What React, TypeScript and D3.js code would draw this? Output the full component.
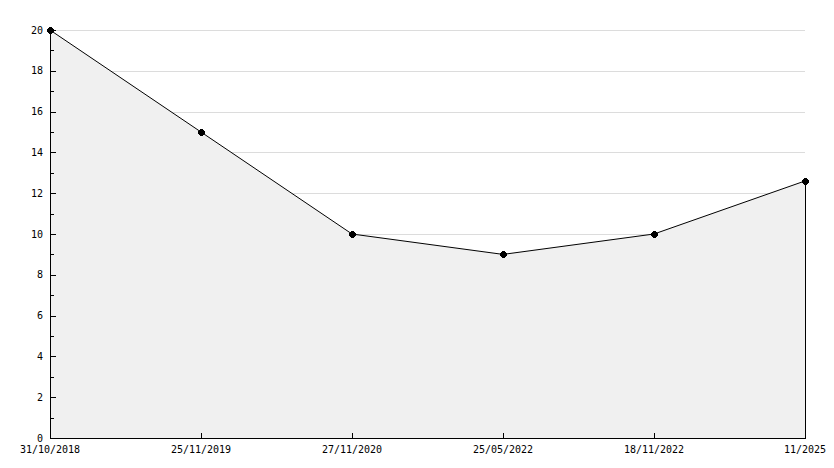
import React from "react";
import * as d3 from "d3";

const categories = ["31/10/2018", "25/11/2019", "27/11/2020", "25/05/2022", "18/11/2022", "11/2025"];
const values = [20, 15, 10, 9, 10, 12.6];
const yTicks = [0, 2, 4, 6, 8, 10, 12, 14, 16, 18, 20];
const yMinorTicks = [1, 3, 5, 7, 9, 11, 13, 15, 17, 19];

const W = 834, H = 468;
const L = 50, R = 805, T = 30, B = 438;

export default function App() {
  const x = d3.scalePoint<string>().domain(categories).range([L, R]);
  const y = d3.scaleLinear().domain([0, 20]).range([B, T]);
  const pts: [number, number][] = values.map((v, i) => [x(categories[i]) as number, y(v)]);
  const area = d3.area<[number, number]>().x(d => d[0]).y0(B).y1(d => d[1]);
  const line = d3.line<[number, number]>().x(d => d[0]).y(d => d[1]);
  const font = "'DejaVu Sans Mono', monospace";
  return (
    <svg width={W} height={H} style={{ position: "absolute", left: 0, top: 0, background: "#fff" }}>
      <rect x={0} y={0} width={W} height={H} fill="#fff" />
      {yTicks.filter(t => t > 0).map(t => (
        <line key={"g" + t} x1={L} x2={R} y1={Math.round(y(t)) + 0.5} y2={Math.round(y(t)) + 0.5} stroke="#dcdcdc" strokeWidth={1} />
      ))}
      <path d={area(pts) as string} fill="#f0f0f0" />
      <line x1={R + 0.5} x2={R + 0.5} y1={pts[pts.length - 1][1]} y2={B} stroke="#000" strokeWidth={1} />
      <path d={line(pts) as string} fill="none" stroke="#000" strokeWidth={1} />
      {pts.map((p, i) => (
        <g key={"m" + i} transform={`translate(${Math.round(p[0])},${Math.round(p[1])})`}>
          <rect x={-2} y={-2} width={5} height={5} fill="#000" />
          <rect x={-3} y={-1} width={7} height={3} fill="#000" />
          <rect x={-1} y={-3} width={3} height={7} fill="#000" />
        </g>
      ))}
      <line x1={L + 0.5} x2={L + 0.5} y1={T} y2={B + 0.5} stroke="#000" strokeWidth={1} />
      <line x1={L} x2={R + 1} y1={B + 0.5} y2={B + 0.5} stroke="#000" strokeWidth={1} />
      {yTicks.map(t => (
        <g key={"yt" + t}>
          <line x1={L} x2={L + 6} y1={Math.round(y(t)) + 0.5} y2={Math.round(y(t)) + 0.5} stroke="#000" />
          <text x={43} y={y(t)} dy="0.35em" textAnchor="end" fontFamily={font} fontSize={10} fill="#000">{t}</text>
        </g>
      ))}
      {yMinorTicks.map(t => (
        <line key={"ym" + t} x1={L} x2={L + 4} y1={Math.round(y(t)) + 0.5} y2={Math.round(y(t)) + 0.5} stroke="#000" />
      ))}
      {categories.map(c => {
        const cx = Math.round(x(c) as number) + 0.5;
        return (
          <g key={"xt" + c}>
            <line x1={cx} x2={cx} y1={B - 5} y2={B} stroke="#000" />
            <text x={x(c) as number} y={453} textAnchor="middle" fontFamily={font} fontSize={10} fill="#000">{c}</text>
          </g>
        );
      })}
    </svg>
  );
}
